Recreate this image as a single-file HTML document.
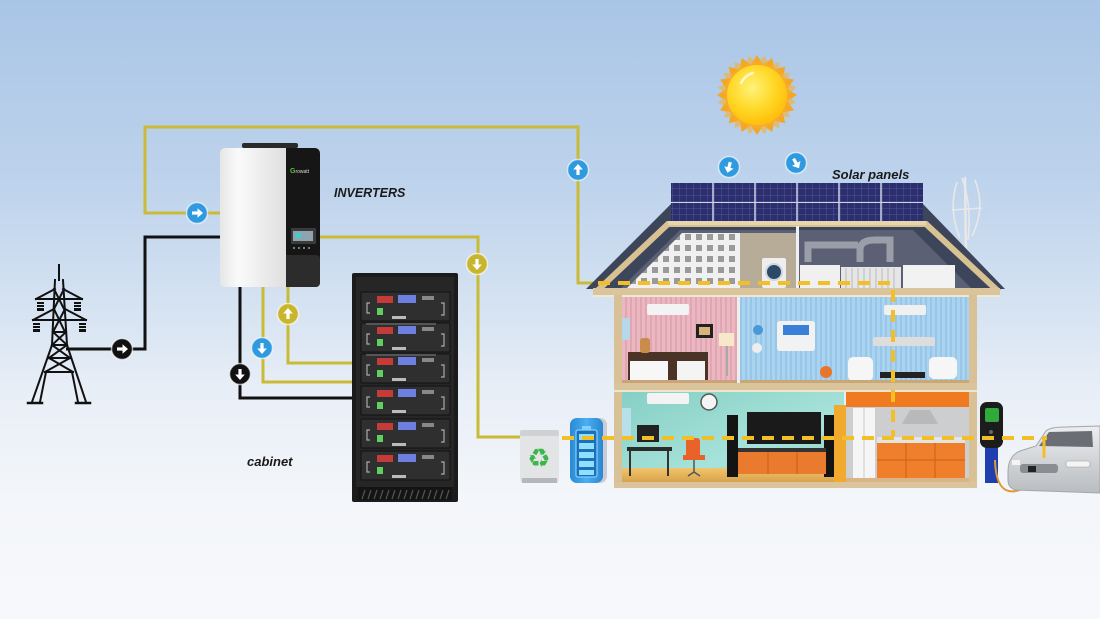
<!DOCTYPE html>
<html><head><meta charset="utf-8">
<style>html,body{margin:0;padding:0;width:1100px;height:619px;overflow:hidden;background:#f5f7fb}svg{display:block}</style>
</head><body>
<svg width="1100" height="619" viewBox="0 0 1100 619" xmlns="http://www.w3.org/2000/svg">
<defs>
<linearGradient id="bg" x1="0" y1="0" x2="0" y2="1">
 <stop offset="0" stop-color="#a9c5e6"/>
 <stop offset="0.3" stop-color="#bed3ec"/>
 <stop offset="0.5" stop-color="#d6e3f2"/>
 <stop offset="0.64" stop-color="#e9eff7"/>
 <stop offset="0.8" stop-color="#f3f6fa"/>
 <stop offset="1" stop-color="#f7f8fb"/>
</linearGradient>
<radialGradient id="sun" cx="0.42" cy="0.38" r="0.6">
 <stop offset="0" stop-color="#fff27a"/>
 <stop offset="0.6" stop-color="#ffd928"/>
 <stop offset="1" stop-color="#ffc10e"/>
</radialGradient>
<linearGradient id="inv" x1="0" y1="0" x2="1" y2="0">
 <stop offset="0" stop-color="#e6e6e6"/>
 <stop offset="0.25" stop-color="#fafafa"/>
 <stop offset="1" stop-color="#dcdcdc"/>
</linearGradient>
<pattern id="cells" width="7" height="6.5" patternUnits="userSpaceOnUse">
 <rect width="7" height="6.5" fill="#2c2f6e"/>
 <path d="M0 0H7M0 0V6.5" stroke="#5b60a5" stroke-width="0.8"/>
</pattern>
<pattern id="chk" width="11" height="11" patternUnits="userSpaceOnUse">
 <rect width="11" height="11" fill="#f0f0f0"/>
 <rect x="3" y="3" width="6" height="6" fill="#9a9a9a"/>
</pattern>
<pattern id="pink" width="5" height="10" patternUnits="userSpaceOnUse">
 <rect width="5" height="10" fill="#ebb7c1"/><rect width="2" height="10" fill="#e0a6b2"/>
</pattern>
<pattern id="blue" width="5" height="10" patternUnits="userSpaceOnUse">
 <rect width="5" height="10" fill="#a9d3ef"/><rect width="2" height="10" fill="#97c6e8"/>
</pattern>
<linearGradient id="teal" x1="0" y1="0" x2="1" y2="1">
 <stop offset="0" stop-color="#86cfc4"/>
 <stop offset="0.6" stop-color="#a6e2da"/>
 <stop offset="1" stop-color="#8fd1c6"/>
</linearGradient>
<linearGradient id="floor" x1="0" y1="0" x2="0" y2="1">
 <stop offset="0" stop-color="#f0c56d"/><stop offset="1" stop-color="#d9a24c"/>
</linearGradient>
<linearGradient id="bat" x1="0" y1="0" x2="1" y2="0">
 <stop offset="0" stop-color="#2a8ad6"/><stop offset="0.5" stop-color="#4aaef0"/><stop offset="1" stop-color="#2a86d0"/>
</linearGradient>
<linearGradient id="car" x1="0" y1="0" x2="0" y2="1">
 <stop offset="0" stop-color="#eceef0"/><stop offset="1" stop-color="#b9bcc0"/>
</linearGradient>
<g id="ar"><rect x="-5" y="-1.6" width="6.5" height="3.2" fill="#fff"/><polygon points="0.5,-4.8 6,0 0.5,4.8" fill="#fff"/></g>
</defs>

<rect width="1100" height="619" fill="url(#bg)"/>

<!-- ===== Sun ===== -->
<polygon fill="#f5a623" points="797,95 787.41,101.05 793.96,110.32 782.76,112.24 785.28,123.28 774.24,120.76 772.32,131.96 763.05,125.41 757,135 750.95,125.41 741.68,131.96 739.76,120.76 728.72,123.28 731.24,112.24 720.04,110.32 726.59,101.05 717,95 726.59,88.95 720.04,79.68 731.24,77.76 728.72,66.72 739.76,69.24 741.68,58.04 750.95,64.59 757,55 763.05,64.59 772.32,58.04 774.24,69.24 785.28,66.72 782.76,77.76 793.96,79.68 787.41,88.95"/>
<polygon fill="#f7b12e" transform="rotate(11.25 757 95)" points="797,95 787.41,101.05 793.96,110.32 782.76,112.24 785.28,123.28 774.24,120.76 772.32,131.96 763.05,125.41 757,135 750.95,125.41 741.68,131.96 739.76,120.76 728.72,123.28 731.24,112.24 720.04,110.32 726.59,101.05 717,95 726.59,88.95 720.04,79.68 731.24,77.76 728.72,66.72 739.76,69.24 741.68,58.04 750.95,64.59 757,55 763.05,64.59 772.32,58.04 774.24,69.24 785.28,66.72 782.76,77.76 793.96,79.68 787.41,88.95" opacity="0.6"/>
<circle cx="757" cy="95" r="30" fill="url(#sun)"/>
<path d="M741 83 Q745 75 753 73" stroke="#fff" stroke-width="2.5" fill="none" opacity="0.7" stroke-linecap="round"/>

<!-- ===== Wiring (solid) ===== -->
<g fill="none" stroke-width="3" stroke-linejoin="miter">
 <polyline points="220,213 145,213 145,127 578,127 578,283 598,283" stroke="#c9bb36"/>
 <polyline points="320,237 478,237 478,437 528,437" stroke="#c9bb36"/>
 <polyline points="263,287 263,382 353,382" stroke="#c9bb36"/>
 <polyline points="288,287 288,363 353,363" stroke="#c9bb36"/>
 <polyline points="220,237 145,237 145,349 66,349" stroke="#111"/>
 <polyline points="240,287 240,398 353,398" stroke="#111"/>
</g>

<!-- ===== Tower ===== -->
<g stroke="#111" stroke-width="2" fill="none" stroke-linecap="square">
 <line x1="59" y1="265" x2="59" y2="280"/>
 <polyline points="55,280 52,345 32,402"/>
 <polyline points="63,280 67,345 86,402"/>
 <line x1="28" y1="403" x2="42" y2="403" stroke-width="2.5"/>
 <line x1="76" y1="403" x2="90" y2="403" stroke-width="2.5"/>
 <polyline points="46,372 40,402"/>
 <polyline points="72,372 78,402"/>
 <line x1="36" y1="299" x2="82" y2="299"/>
 <line x1="36" y1="299" x2="55" y2="289"/>
 <line x1="82" y1="299" x2="63" y2="289"/>
 <line x1="33" y1="320" x2="86" y2="320"/>
 <line x1="33" y1="320" x2="54" y2="309"/>
 <line x1="86" y1="320" x2="65" y2="309"/>
 <line x1="54" y1="289" x2="64" y2="309"/><line x1="64" y1="289" x2="54" y2="309"/>
 <line x1="54" y1="309" x2="65" y2="332"/><line x1="65" y1="309" x2="53" y2="332"/>
 <line x1="53" y1="332" x2="66" y2="332"/>
 <line x1="52" y1="345" x2="67" y2="345"/>
 <line x1="53" y1="332" x2="67" y2="345"/><line x1="66" y1="332" x2="52" y2="345"/>
 <line x1="49" y1="358" x2="70" y2="358"/>
 <line x1="52" y1="345" x2="70" y2="358"/><line x1="67" y1="345" x2="49" y2="358"/>
 <line x1="45" y1="372" x2="73" y2="372"/>
 <line x1="49" y1="358" x2="73" y2="372"/><line x1="70" y1="358" x2="45" y2="372"/>
</g>
<g fill="#111">
 <rect x="37" y="302" width="7" height="2"/><rect x="37" y="305" width="7" height="2"/><rect x="37" y="308" width="7" height="3"/>
 <rect x="74" y="302" width="7" height="2"/><rect x="74" y="305" width="7" height="2"/><rect x="74" y="308" width="7" height="3"/>
 <rect x="33" y="323" width="7" height="2"/><rect x="33" y="326" width="7" height="2"/><rect x="33" y="329" width="7" height="3"/>
 <rect x="79" y="323" width="7" height="2"/><rect x="79" y="326" width="7" height="2"/><rect x="79" y="329" width="7" height="3"/>
</g>

<!-- ===== Inverter ===== -->
<rect x="242" y="143" width="56" height="5" rx="2" fill="#2a2a2a"/>
<rect x="220" y="148" width="72" height="139" rx="5" fill="url(#inv)"/>
<rect x="286" y="148" width="34" height="139" rx="5" fill="#161616"/>
<rect x="286" y="255" width="34" height="32" rx="4" fill="#2c2c2c"/>
<rect x="286" y="148" width="6" height="139" fill="#161616"/>
<rect x="286" y="255" width="6" height="32" fill="#2c2c2c"/>
<text x="290" y="173" font-family="Liberation Sans, sans-serif" font-size="5" fill="#ddd"><tspan fill="#5ec13a" font-weight="bold" font-size="7">G</tspan>rowatt</text>
<rect x="291" y="228" width="25" height="16" rx="1" fill="#3b3b3b"/>
<rect x="293" y="231" width="20" height="10" fill="#8fa3b0"/>
<rect x="296" y="233" width="5" height="5" fill="#3ad1c6"/>
<g fill="#777"><rect x="293" y="247" width="2" height="2"/><rect x="298" y="247" width="2" height="2"/><rect x="303" y="247" width="2" height="2"/><rect x="308" y="247" width="2" height="2"/></g>

<!-- ===== Cabinet ===== -->
<rect x="352" y="273" width="106" height="229" rx="2" fill="#1b1b1b"/>
<rect x="356" y="277" width="98" height="210" fill="#262626"/>
<g id="mod">
 <rect x="361" y="292" width="89" height="29" rx="1" fill="#2f2f2f" stroke="#111" stroke-width="1"/>
 <rect x="377" y="296" width="16" height="7" fill="#c63a3a"/>
 <rect x="398" y="295" width="18" height="8" fill="#6d7fe0"/>
 <rect x="422" y="296" width="12" height="4" fill="#888"/>
 <rect x="377" y="308" width="6" height="7" fill="#5fcf5f"/>
 <rect x="392" y="316" width="14" height="3" fill="#bbb"/>
 <path d="M370 303 h-3 v10 h3 M441 303 h3 v12 h-3" stroke="#aaa" stroke-width="1.2" fill="none"/>
</g>
<use href="#mod" y="31"/>
<use href="#mod" y="62"/>
<use href="#mod" y="94"/>
<use href="#mod" y="127"/>
<use href="#mod" y="159"/>
<g fill="#555">
 <rect x="366" y="323" width="70" height="2"/><rect x="366" y="354" width="70" height="2"/>
</g>
<rect x="358" y="487" width="94" height="13" fill="#141414"/>
<path d="M362 499 l3 -9 M368 499 l3 -9 M374 499 l3 -9 M380 499 l3 -9 M386 499 l3 -9 M392 499 l3 -9 M398 499 l3 -9 M404 499 l3 -9 M410 499 l3 -9 M416 499 l3 -9 M422 499 l3 -9 M428 499 l3 -9 M434 499 l3 -9 M440 499 l3 -9 M446 499 l3 -9" stroke="#555" stroke-width="1.2"/>

<!-- ===== Connector circles ===== -->
<g stroke="rgba(255,255,255,0.65)" stroke-width="1.5">
 <circle cx="197" cy="213" r="10.5" fill="#2f9ae0"/>
 <circle cx="122" cy="349" r="10.5" fill="#111"/>
 <circle cx="578" cy="170" r="10.5" fill="#2f9ae0"/>
 <circle cx="477" cy="264" r="10.5" fill="#c8b52e"/>
 <circle cx="288" cy="314" r="10.5" fill="#c8b52e"/>
 <circle cx="262" cy="348" r="10.5" fill="#2f9ae0"/>
 <circle cx="240" cy="374" r="10.5" fill="#111"/>
 <circle cx="729" cy="167" r="10.5" fill="#2f9ae0"/>
 <circle cx="796" cy="163" r="10.5" fill="#2f9ae0"/>
</g>
<use href="#ar" transform="translate(197,213)"/>
<use href="#ar" transform="translate(122,349)"/>
<use href="#ar" transform="translate(578,170) rotate(-90)"/>
<use href="#ar" transform="translate(477,264) rotate(90)"/>
<use href="#ar" transform="translate(288,314) rotate(-90)"/>
<use href="#ar" transform="translate(262,348) rotate(90)"/>
<use href="#ar" transform="translate(240,374) rotate(90)"/>
<use href="#ar" transform="translate(729,167) rotate(105)"/>
<use href="#ar" transform="translate(796,163) rotate(60)"/>

<!-- ===== Labels ===== -->
<g font-family="Liberation Sans, sans-serif" font-weight="bold" font-style="italic" fill="#1a1a1a">
 <text x="334" y="197" font-size="12.5">INVERTERS</text>
 <text x="832" y="179" font-size="13">Solar panels</text>
 <text x="247" y="466" font-size="13">cabinet</text>
</g>

<!-- ===== Wind turbine ===== -->
<g stroke="#e8e8e8" fill="none" stroke-width="1.6">
 <line x1="965" y1="177" x2="966" y2="258" stroke-width="2.5"/>
 <path d="M957 182 Q948 210 960 238 M975 180 Q986 208 972 236 M962 178 Q972 205 968 240"/>
 <line x1="952" y1="210" x2="982" y2="208"/>
</g>

<!-- ===== House ===== -->
<!-- roof -->
<polygon points="586,289 672,203 922,203 1005,289" fill="#3c4559"/>
<polyline points="596,292 668,224 926,224 999,292" fill="none" stroke="#d8c192" stroke-width="6"/>
<polygon points="620,289 680,230 913,230 972,289" fill="#5b6074"/>
<!-- panels -->
<rect x="671" y="183" width="252" height="40" fill="url(#cells)"/>
<g stroke="#cfd3e6" stroke-width="1.5">
 <line x1="713" y1="183" x2="713" y2="223"/><line x1="755" y1="183" x2="755" y2="223"/>
 <line x1="797" y1="183" x2="797" y2="223"/><line x1="839" y1="183" x2="839" y2="223"/>
 <line x1="881" y1="183" x2="881" y2="223"/>
 <line x1="671" y1="202.5" x2="923" y2="202.5" stroke-width="1"/>
</g>
<rect x="668" y="221" width="258" height="4" fill="#e7d5ad"/>
<!-- attic -->
<polygon points="626,289 682,233 740,233 740,289" fill="url(#chk)"/>
<rect x="740" y="233" width="57" height="56" fill="#b6ac98"/>
<rect x="762" y="258" width="24" height="30" rx="2" fill="#eeeeee"/>
<circle cx="774" cy="272" r="8" fill="#2c4a68" stroke="#cfd6dc" stroke-width="2"/>
<rect x="796" y="226" width="3" height="64" fill="#eef0f2"/>
<path d="M808 262 V245 H858 M860 262 V250 Q860 240 875 240 H890 V262" stroke="#9a9ea8" stroke-width="7" fill="none"/>
<rect x="800" y="265" width="40" height="24" fill="#f0f0f0"/>
<rect x="841" y="267" width="60" height="22" fill="#e6e6e6"/>
<path d="M846 268v20M852 268v20M858 268v20M864 268v20M870 268v20M876 268v20M882 268v20M888 268v20M894 268v20" stroke="#bbb" stroke-width="1"/>
<rect x="903" y="265" width="52" height="24" fill="#f2f2f2"/>
<!-- attic floor beam -->
<rect x="593" y="288" width="407" height="8" fill="#d9c49c"/>
<rect x="593" y="295" width="407" height="2" fill="#f1e7d2"/>
<!-- walls -->
<rect x="614" y="295" width="8" height="192" fill="#d8c196"/>
<rect x="969" y="295" width="8" height="192" fill="#d8c196"/>
<!-- upper pink room -->
<rect x="622" y="297" width="115" height="86" fill="url(#pink)"/>
<rect x="647" y="304" width="42" height="11" rx="2" fill="#f3f3f3"/>
<rect x="622" y="318" width="8" height="22" fill="#b7d8ea"/>
<rect x="696" y="324" width="17" height="14" fill="#222"/><rect x="699" y="327" width="11" height="8" fill="#d8b47c"/>
<rect x="719" y="333" width="15" height="13" fill="#f6e8c9"/><rect x="726" y="346" width="2" height="30" fill="#aaa"/>
<rect x="628" y="352" width="80" height="30" fill="#4b3426"/>
<rect x="630" y="361" width="38" height="20" fill="#f7f7f7"/><rect x="677" y="361" width="28" height="20" fill="#f4f4f4"/>
<rect x="640" y="338" width="10" height="15" rx="3" fill="#c98c4a"/>
<rect x="622" y="380" width="115" height="3" fill="#caa37b"/>
<rect x="737" y="297" width="3" height="86" fill="#eee"/>
<!-- upper blue room -->
<rect x="740" y="297" width="229" height="86" fill="url(#blue)"/>
<rect x="777" y="321" width="38" height="30" rx="3" fill="#f2f2f2"/>
<rect x="783" y="325" width="26" height="10" fill="#3a7fd8"/>
<circle cx="758" cy="330" r="5" fill="#4a98d8"/><circle cx="757" cy="348" r="5" fill="#eee"/>
<rect x="884" y="305" width="42" height="10" rx="2" fill="#f0f0f0"/>
<rect x="873" y="337" width="62" height="9" rx="2" fill="#dddddd"/>
<rect x="848" y="357" width="25" height="24" rx="5" fill="#f6f6f6"/>
<rect x="929" y="357" width="28" height="22" rx="5" fill="#f6f6f6"/>
<circle cx="826" cy="372" r="6" fill="#e8762a"/>
<rect x="880" y="372" width="45" height="6" fill="#222"/>
<rect x="740" y="380" width="229" height="3" fill="#c8a878"/>
<!-- mid beam -->
<rect x="614" y="383" width="363" height="8" fill="#d9c49c"/>
<rect x="614" y="390" width="363" height="2" fill="#efe4cc"/>
<!-- lower teal room -->
<rect x="622" y="392" width="222" height="90" fill="url(#teal)"/>
<rect x="622" y="468" width="222" height="14" fill="url(#floor)"/>
<rect x="647" y="393" width="42" height="11" rx="2" fill="#f3f3f3"/>
<circle cx="709" cy="402" r="8" fill="#f4f4f4" stroke="#555" stroke-width="1.5"/>
<rect x="622" y="408" width="9" height="30" fill="#b8e0ea"/>
<rect x="637" y="425" width="22" height="17" fill="#222"/>
<rect x="627" y="447" width="45" height="4" fill="#2b2b2b"/>
<path d="M630 451v25M668 451v25" stroke="#333" stroke-width="2"/>
<rect x="686" y="438" width="14" height="20" rx="3" fill="#e8622a"/>
<rect x="683" y="455" width="22" height="5" fill="#e8622a"/>
<path d="M694 460v12M688 476l6-4 6 4" stroke="#555" stroke-width="1.5" fill="none"/>
<rect x="727" y="415" width="11" height="62" fill="#141414"/>
<rect x="824" y="415" width="11" height="62" fill="#141414"/>
<rect x="747" y="412" width="74" height="32" fill="#1a1a1a"/>
<rect x="738" y="448" width="88" height="4" fill="#333"/>
<rect x="738" y="452" width="88" height="22" fill="#ea7a2e"/>
<path d="M768 452v22M797 452v22" stroke="#c65f1c" stroke-width="1"/>
<rect x="834" y="405" width="12" height="77" fill="#f2aa2e"/>
<!-- kitchen -->
<rect x="846" y="392" width="123" height="90" fill="#cdcecf"/>
<rect x="846" y="392" width="123" height="15" fill="#ef7a20"/>
<rect x="853" y="408" width="22" height="74" fill="#f5f5f5"/>
<line x1="864" y1="408" x2="864" y2="482" stroke="#ccc"/>
<polygon points="910,410 930,410 938,424 902,424" fill="#b9b9b9"/>
<rect x="877" y="437" width="88" height="6" fill="#e4e4e4"/>
<rect x="877" y="443" width="88" height="35" fill="#ef7f2a"/>
<path d="M906 443v35M935 443v35M877 460h88" stroke="#c9621a" stroke-width="1"/>
<rect x="846" y="478" width="123" height="4" fill="#d8b486"/>
<!-- bottom beam -->
<rect x="614" y="482" width="363" height="6" fill="#d9c49c"/>

<!-- ===== Left appliances ===== -->
<rect x="520" y="430" width="39" height="53" rx="3" fill="#e3e4e6"/>
<rect x="520" y="430" width="39" height="6" rx="2" fill="#cfd1d4"/>
<rect x="522" y="478" width="35" height="5" fill="#b5b7ba"/>
<text x="539" y="467" font-family="DejaVu Sans, sans-serif" font-size="26" fill="#3cb54a" text-anchor="middle">♻</text>
<rect x="570" y="418" width="37" height="65" rx="7" fill="#c9ccd2"/>
<rect x="570" y="418" width="33" height="65" rx="7" fill="url(#bat)"/>
<rect x="576" y="430" width="21" height="47" rx="2" fill="#1d6fb8" stroke="#7fd0ff" stroke-width="1.2"/>
<rect x="582" y="426" width="9" height="4" fill="#7fd0ff"/>
<g fill="#8fe0ff"><rect x="579" y="434" width="15" height="6"/><rect x="579" y="443" width="15" height="6"/><rect x="579" y="452" width="15" height="6"/><rect x="579" y="461" width="15" height="6"/><rect x="579" y="470" width="15" height="5"/></g>

<!-- ===== Charger & car ===== -->
<rect x="985" y="447" width="13" height="36" fill="#1f3fae"/>
<rect x="980" y="402" width="23" height="46" rx="7" fill="#1c1c1c"/>
<rect x="985" y="408" width="14" height="14" rx="2" fill="#2faa3b"/>
<circle cx="991" cy="432" r="2" fill="#666"/>
<path d="M995 460 Q996 495 1016 491 Q1030 488 1032 472" stroke="#e29a35" stroke-width="2" fill="none"/>
<path d="M1008 472 Q1008 456 1020 451 L1036 446 L1046 431 Q1050 427 1066 427 L1100 426 L1100 493 L1016 490 Q1008 488 1008 480 Z" fill="url(#car)" stroke="#a3a6aa" stroke-width="1"/>
<polygon points="1039,446 1049,432 1092,431 1093,447" fill="#6a6e74"/>
<rect x="1020" y="464" width="38" height="9" rx="3" fill="#8a8d92"/>
<rect x="1066" y="461" width="24" height="6" rx="2" fill="#f4f4f4" stroke="#999" stroke-width="0.6"/>
<rect x="1012" y="460" width="8" height="5" fill="#f4f4f4"/>
<rect x="1028" y="466" width="8" height="6" fill="#222"/>

<!-- ===== Dashed yellow wiring ===== -->
<g stroke="#f3bf27" stroke-width="4" fill="none" stroke-dasharray="12 8">
 <line x1="598" y1="283" x2="896" y2="283"/>
 <line x1="893" y1="290" x2="893" y2="436"/>
 <line x1="562" y1="438" x2="1047" y2="438"/>
 <line x1="1044" y1="440" x2="1044" y2="458" stroke-dasharray="none" stroke-width="3"/>
</g>
</svg>
</body></html>
